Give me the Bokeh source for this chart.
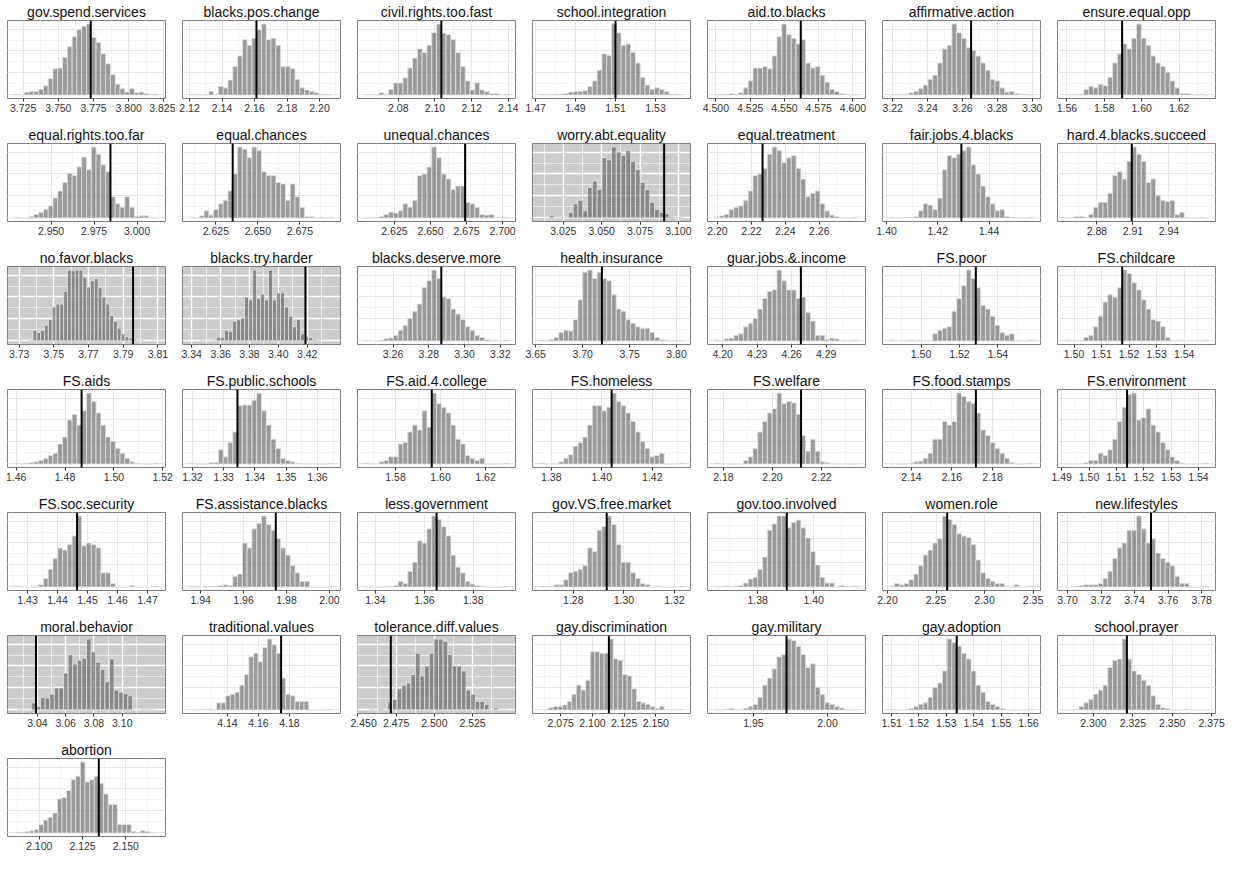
import numpy as np
from bokeh.plotting import figure
from bokeh.layouts import gridplot
from bokeh.models import FixedTicker, SingleIntervalTicker, Span, CustomJSTickFormatter
from bokeh.embed import file_html
from bokeh.resources import INLINE

names = ["gov.spend.services", "blacks.pos.change", "civil.rights.too.fast", "school.integration",
         "aid.to.blacks", "affirmative.action", "ensure.equal.opp",
         "equal.rights.too.far", "equal.chances", "unequal.chances", "worry.abt.equality",
         "equal.treatment", "fair.jobs.4.blacks", "hard.4.blacks.succeed",
         "no.favor.blacks", "blacks.try.harder", "blacks.deserve.more", "health.insurance",
         "guar.jobs.&.income", "FS.poor", "FS.childcare",
         "FS.aids", "FS.public.schools", "FS.aid.4.college", "FS.homeless",
         "FS.welfare", "FS.food.stamps", "FS.environment",
         "FS.soc.security", "FS.assistance.blacks", "less.government", "gov.VS.free.market",
         "gov.too.involved", "women.role", "new.lifestyles",
         "moral.behavior", "traditional.values", "tolerance.diff.values", "gay.discrimination",
         "gay.military", "gay.adoption", "school.prayer",
         "abortion"]

significant = [0, 0, 0, 0, 0, 0, 0,
               0, 0, 0, 1, 0, 0, 0,
               1, 1, 0, 0, 0, 0, 0,
               0, 0, 0, 0, 0, 0, 0,
               0, 0, 0, 0, 0, 0, 0,
               1, 0, 1, 0, 0, 0, 0,
               0]

hist_lo = [3.719, 2.1201, 2.0617, 1.4721, 4.4991, 3.2183, 1.5588,
           2.9289, 2.6094, 2.6043, 3.0096, 2.1984, 1.4012, 2.8531,
           3.7358, 3.3462, 3.2441, 3.6542, 4.1930, 1.4837, 1.4966,
           1.4594, 1.3191, 1.5663, 1.3754, 2.1764, 2.1293, 1.4911,
           1.4257, 1.9349, 1.3356, 1.2667, 1.3647, 2.2022, 3.6983,
           3.0259, 4.1181, 2.4576, 2.0619, 1.9238, 1.5093, 2.2817,
           2.0865]
hist_hi = [3.821, 2.2085, 2.1400, 1.5439, 4.6039, 3.3007, 1.6356,
           3.0123, 2.6949, 2.7040, 3.1032, 2.2830, 1.4573, 2.9728,
           3.8021, 3.4292, 3.3245, 3.8072, 4.3180, 1.5584, 1.5488,
           1.5182, 1.3651, 1.6301, 1.4323, 2.2351, 2.2001, 1.5436,
           1.4736, 2.0018, 1.3943, 1.3235, 1.4159, 2.3503, 3.7840,
           3.1235, 4.2073, 2.5478, 2.1711, 2.0208, 1.5618, 2.3729,
           2.1664]

view_lo = [None] * 43
view_hi = [None] * 43
view_lo[14], view_hi[14] = 3.7233, 3.8144
view_lo[15], view_hi[15] = 3.3336, 3.4431
view_lo[35], view_hi[35] = 3.0188, 3.1306
view_lo[36], view_hi[36] = 4.1110, 4.2129
view_lo[37], view_hi[37] = 2.4497, 2.5531
view_lo[38], view_hi[38] = 2.0527, 2.1774
view_lo[42], view_hi[42] = 2.0817, 2.1729

observed = [3.773, 2.1612, 2.1035, 1.5100, 4.5619, 3.2650, 1.5895,
            2.9845, 2.6350, 2.6740, 3.0907, 2.2266, 1.4292, 2.9090,
            3.7957, 3.4188, 3.2870, 3.7205, 4.2680, 1.5285, 1.5175,
            1.4868, 1.3344, 1.5961, 1.4039, 2.2117, 2.1718, 1.5139,
            1.4465, 1.9750, 1.3650, 1.2932, 1.3904, 2.2615, 3.7498,
            3.0390, 4.1746, 2.4715, 2.1130, 1.9723, 1.5338, 2.3212,
            2.1344]

counts = [
    [1,0,4,5,5,8,13,23,37,38,53,68,82,92,97,100,81,74,58,44,29,15,9,4,9,3,4,2,1,1],
    [1,0,0,1,5,1,12,10,21,40,55,78,70,80,92,100,78,80,70,40,40,37,22,10,7,5,3,1,1,0],
    [0,1,0,3,1,8,17,17,24,38,52,65,60,70,88,100,87,85,78,60,40,20,7,17,7,5,2,2,0,1],
    [1,0,1,1,1,2,4,5,5,6,12,20,35,58,56,100,88,70,72,60,45,25,14,8,10,8,5,1,1,0],
    [0,1,1,2,1,3,10,20,38,38,40,37,55,82,100,85,80,72,78,45,38,40,28,18,8,5,2,1,0,0],
    [0,1,0,1,3,5,9,14,22,28,45,65,70,100,88,80,67,63,55,45,35,22,20,10,4,5,2,1,1,0],
    [0,1,0,1,8,12,10,15,13,25,45,58,72,65,80,100,80,70,55,45,40,32,20,10,2,2,1,0,1,0],
    [1,0,0,2,5,8,12,17,28,38,50,63,60,72,86,68,100,90,75,65,30,20,15,30,15,2,3,3,1,0],
    [1,0,3,10,4,12,20,25,38,62,100,97,85,100,95,65,60,60,50,48,25,48,30,15,2,2,0,1,0,1],
    [0,1,1,2,5,8,7,10,20,15,25,60,62,72,100,85,62,55,40,45,45,22,20,15,5,4,5,1,0,1],
    [0,0,3,0,1,0,8,20,25,10,43,52,40,85,82,100,93,88,95,80,68,50,40,22,12,8,6,2,1,1],
    [1,3,5,12,15,17,25,38,60,62,70,90,100,95,78,85,88,70,55,30,35,38,20,10,4,2,0,0,0,1],
    [1,0,0,1,1,2,10,20,18,12,28,68,88,85,90,95,100,75,62,45,30,20,10,12,2,1,0,0,0,1],
    [0,0,2,2,1,5,15,22,22,35,60,65,55,80,100,90,80,50,55,32,25,23,25,5,8,1,0,0,1,0],
    [1,15,12,15,22,30,48,52,52,70,100,99,100,100,90,76,85,88,75,62,52,36,28,18,10,6,4,2,1,1],
    [1,0,0,1,5,5,15,13,28,30,32,62,58,100,60,66,58,100,58,68,68,48,35,20,30,10,6,5,2,1],
    [1,0,0,1,3,4,8,15,22,32,42,52,75,85,100,88,62,60,45,38,30,20,15,8,5,2,1,1,0,1],
    [1,1,2,5,12,15,14,30,58,97,100,88,97,88,85,65,45,42,30,25,20,18,18,12,5,2,1,0,1,0],
    [1,0,3,4,8,10,20,25,32,45,60,70,72,100,85,72,72,60,62,40,28,8,8,2,4,3,0,0,0,1],
    [1,0,0,0,1,0,1,0,0,10,15,18,20,42,60,78,100,88,75,50,45,35,22,12,8,10,0,0,0,1],
    [1,0,0,0,5,8,20,35,55,65,62,75,100,95,82,72,58,45,30,28,20,5,0,0,0,0,0,0,0,1],
    [1,0,1,2,3,5,8,12,15,28,38,62,70,55,75,100,88,72,55,38,32,22,15,8,3,1,0,0,0,1],
    [1,0,0,0,2,2,20,10,30,45,82,83,83,90,100,75,55,35,22,8,5,3,1,0,0,0,0,0,0,1],
    [1,0,0,3,5,10,10,28,30,45,55,48,75,52,100,85,80,72,55,35,28,12,8,5,8,0,0,0,0,1],
    [1,0,0,0,3,8,13,25,30,38,55,82,82,75,80,100,88,82,72,60,45,32,22,10,12,15,0,0,0,1],
    [1,0,0,0,0,0,5,10,22,45,60,72,78,100,85,88,86,70,40,18,35,18,3,2,0,0,0,0,0,0],
    [0,0,0,0,1,3,4,8,15,35,35,60,55,60,100,95,88,85,72,48,40,30,22,15,8,2,0,0,0,1],
    [0,0,0,0,2,5,5,15,12,20,35,60,80,98,100,62,65,78,55,45,30,20,10,5,1,0,0,0,0,1],
    [1,0,0,0,0,3,12,25,40,55,52,60,72,100,58,62,60,55,20,20,5,0,0,0,2,0,0,0,0,1],
    [1,0,0,1,1,1,2,3,2,15,18,62,55,82,90,100,88,80,68,55,45,30,20,8,8,0,0,0,0,1],
    [0,0,0,0,1,0,2,8,5,22,35,65,62,82,100,95,85,72,45,28,20,8,4,2,1,0,0,0,0,1],
    [1,0,1,3,3,10,20,22,25,30,55,50,80,85,100,88,60,35,35,20,12,5,3,0,1,0,0,0,0,1],
    [0,0,1,0,1,2,5,10,12,22,38,72,80,90,90,75,82,85,75,62,45,28,12,5,5,0,2,0,0,1],
    [1,5,3,5,10,18,30,45,52,62,68,100,95,88,75,72,70,60,38,20,12,8,5,5,1,0,3,0,0,1],
    [0,0,1,2,3,3,3,5,12,22,40,55,62,80,80,100,82,62,68,48,40,35,30,15,5,5,0,0,0,1],
    [1,0,0,10,5,18,17,22,31,31,52,78,65,70,73,100,82,67,57,40,72,28,25,23,20,0,0,1,1,0],
    [0,0,1,1,0,10,10,20,22,25,35,50,75,80,68,88,100,92,80,45,22,20,12,12,12,0,0,0,0,1],
    [1,0,2,0,12,15,30,35,38,50,80,48,62,80,100,100,97,78,62,62,55,28,22,12,12,8,0,3,0,0],
    [1,3,5,5,7,12,22,35,28,42,82,82,80,80,100,72,70,50,48,30,12,10,8,5,2,5,1,0,0,1],
    [0,0,1,2,0,0,2,5,8,18,35,45,58,75,78,100,98,90,78,60,65,32,22,10,8,5,3,1,0,0],
    [1,0,0,0,2,5,8,10,18,32,38,55,100,95,90,80,72,55,35,25,12,8,5,2,0,0,0,0,0,1],
    [0,0,1,5,10,15,22,28,35,60,70,72,100,72,55,50,42,35,20,8,3,2,0,0,0,1,0,0,0,0],
    [1,1,2,3,5,12,18,22,28,48,50,60,75,80,100,72,75,80,70,55,40,40,12,12,12,2,1,3,2,0],
]

tick_labels = [
    ["3.725", "3.750", "3.775", "3.800", "3.825"],
    ["2.12", "2.14", "2.16", "2.18", "2.20"],
    ["2.08", "2.10", "2.12", "2.14"],
    ["1.47", "1.49", "1.51", "1.53"],
    ["4.500", "4.525", "4.550", "4.575", "4.600"],
    ["3.22", "3.24", "3.26", "3.28", "3.30"],
    ["1.56", "1.58", "1.60", "1.62"],
    ["2.950", "2.975", "3.000"],
    ["2.625", "2.650", "2.675"],
    ["2.625", "2.650", "2.675", "2.700"],
    ["3.025", "3.050", "3.075", "3.100"],
    ["2.20", "2.22", "2.24", "2.26"],
    ["1.40", "1.42", "1.44"],
    ["2.88", "2.91", "2.94"],
    ["3.73", "3.75", "3.77", "3.79", "3.81"],
    ["3.34", "3.36", "3.38", "3.40", "3.42"],
    ["3.26", "3.28", "3.30", "3.32"],
    ["3.65", "3.70", "3.75", "3.80"],
    ["4.20", "4.23", "4.26", "4.29"],
    ["1.50", "1.52", "1.54"],
    ["1.50", "1.51", "1.52", "1.53", "1.54"],
    ["1.46", "1.48", "1.50", "1.52"],
    ["1.32", "1.33", "1.34", "1.35", "1.36"],
    ["1.58", "1.60", "1.62"],
    ["1.38", "1.40", "1.42"],
    ["2.18", "2.20", "2.22"],
    ["2.14", "2.16", "2.18"],
    ["1.49", "1.50", "1.51", "1.52", "1.53", "1.54"],
    ["1.43", "1.44", "1.45", "1.46", "1.47"],
    ["1.94", "1.96", "1.98", "2.00"],
    ["1.34", "1.36", "1.38"],
    ["1.28", "1.30", "1.32"],
    ["1.38", "1.40", "1.42"],
    ["2.20", "2.25", "2.30", "2.35"],
    ["3.70", "3.72", "3.74", "3.76", "3.78"],
    ["3.04", "3.06", "3.08", "3.10"],
    ["4.14", "4.16", "4.18"],
    ["2.450", "2.475", "2.500", "2.525"],
    ["2.075", "2.100", "2.125", "2.150"],
    ["1.95", "2.00"],
    ["1.51", "1.52", "1.53", "1.54", "1.55", "1.56"],
    ["2.300", "2.325", "2.350", "2.375"],
    ["2.100", "2.125", "2.150"],
]

FONT = "Liberation Sans"

figs = []
for i, name in enumerate(names):
    c = counts[i]
    lo, hi = hist_lo[i], hist_hi[i]
    edges = np.linspace(lo, hi, len(c) + 1)
    pad = 0.05 * (hi - lo)
    x0 = view_lo[i] if view_lo[i] is not None else lo - pad
    x1 = view_hi[i] if view_hi[i] is not None else hi + pad
    top = max(c)
    p = figure(width=175, height=123, x_range=(x0, x1), y_range=(-0.05 * top, 1.05 * top),
               output_backend="svg", toolbar_location=None, tools="",
               min_border_left=7, min_border_right=10, min_border_top=18, min_border_bottom=25,
               title=name)
    gray = significant[i] == 1
    p.background_fill_color = "#cccccc" if gray else "white"
    p.border_fill_color = "white"
    p.outline_line_color = "#7f7f7f"
    p.outline_line_width = 1

    p.title.align = "center"
    p.title.text_font = FONT
    p.title.text_font_size = "14px"
    p.title.text_font_style = "normal"
    p.title.text_color = "#111111"
    p.title.standoff = 2

    tv = [float(s) for s in tick_labels[i]]
    step = tv[1] - tv[0]
    minor = [tv[0] - step / 2] + [(a + b) / 2 for a, b in zip(tv[:-1], tv[1:])] + [tv[-1] + step / 2]
    dec = len(tick_labels[i][0].split(".")[1])
    p.xaxis.ticker = FixedTicker(ticks=tv, minor_ticks=minor)
    p.xaxis.formatter = CustomJSTickFormatter(code="return tick.toFixed(%d);" % dec)
    p.xaxis.axis_line_color = None
    p.xaxis.major_tick_line_color = "#333333"
    p.xaxis.major_tick_out = 3
    p.xaxis.major_tick_in = 0
    p.xaxis.minor_tick_out = 0
    p.xaxis.minor_tick_in = 0
    p.xaxis.major_label_standoff = 2
    p.xaxis.major_label_text_font = FONT
    p.xaxis.major_label_text_font_size = "10.5px"
    p.xaxis.major_label_text_color = "#333333"

    p.yaxis.ticker = SingleIntervalTicker(interval=31, num_minor_ticks=2)
    p.yaxis.visible = False

    if gray:
        p.grid.grid_line_color = "white"
        p.grid.grid_line_width = 1.4
        p.grid.minor_grid_line_color = "white"
        p.grid.minor_grid_line_width = 0.7
        p.grid.minor_grid_line_alpha = 0.8
    else:
        p.grid.grid_line_color = "#e6e6e6"
        p.grid.grid_line_width = 1
        p.grid.minor_grid_line_color = "#f4f4f4"
        p.grid.minor_grid_line_width = 1

    p.quad(left=edges[:-1], right=edges[1:], bottom=0, top=c,
           fill_color="#595959", fill_alpha=0.6, line_color="#e3e3e3", line_width=0.8)
    p.add_layout(Span(location=observed[i], dimension="height",
                      line_color="black", line_width=2))
    figs.append(p)

grid = gridplot(figs, ncols=7, toolbar_location=None)

with open("out.html", "w") as f:
    f.write(file_html(grid, INLINE))
